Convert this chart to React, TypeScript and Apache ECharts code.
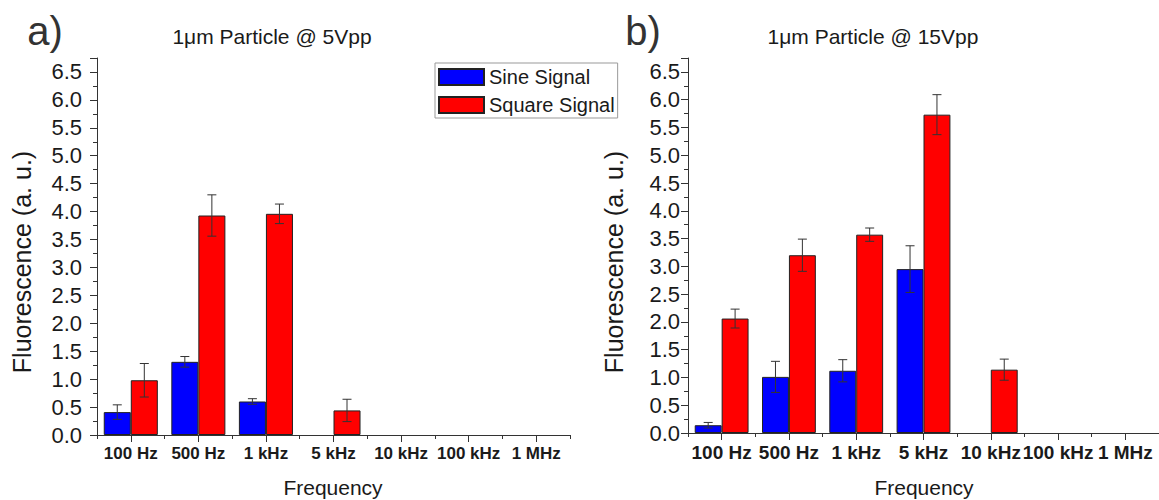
import React, { useEffect, useRef } from "react";
import * as echarts from "echarts";

const categories = ["100 Hz", "500 Hz", "1 kHz", "5 kHz", "10 kHz", "100 kHz", "1 MHz"];

// Panel a) 1um particle @ 5Vpp
const sine5 = [0.41, 1.31, 0.6, 0, 0, 0, 0];
const sine5Err = [0.13, 0.095, 0.05, 0, 0, 0, 0];
const square5 = [0.98, 3.93, 3.96, 0.44, 0, 0, 0];
const square5Err = [0.3, 0.37, 0.175, 0.2, 0, 0, 0];

// Panel b) 1um particle @ 15Vpp
const sine15 = [0.14, 1.01, 1.12, 2.95, 0, 0, 0];
const sine15Err = [0.05, 0.28, 0.2, 0.42, 0, 0, 0];
const square15 = [2.06, 3.2, 3.57, 5.73, 1.14, 0, 0];
const square15Err = [0.17, 0.29, 0.12, 0.36, 0.19, 0, 0];

const yMin = 0;
const yMax = 6.75;
const yInterval = 0.5;

const FONT = "'Liberation Sans', Arial, sans-serif";
const AXIS = "#333";
const TXT = "#1a1a1a";

function errData(vals: number[], errs: number[]) {
  return vals.map((v, i) => [i, v, errs[i]]);
}

function barData(vals: number[]) {
  return vals.map((v) => (v === 0 ? { value: 0, itemStyle: { borderWidth: 0 } } : v));
}

function makeErrSeries(name: string, vals: number[], errs: number[], xIdx: number, yIdx: number, side: number) {
  return {
    type: "custom",
    name,
    xAxisIndex: xIdx,
    yAxisIndex: yIdx,
    z: 5,
    encode: { x: 0, y: 1 },
    data: errData(vals, errs),
    renderItem: (params: any, api: any) => {
      const ci = api.value(0);
      const v = api.value(1);
      const e = api.value(2);
      if (!e) return null;
      const c = api.coord([ci, v]);
      const cw = api.size([1, 0])[0];
      const x = c[0] + side * 0.2 * cw;
      const yt = api.coord([ci, v + e])[1];
      const yb = api.coord([ci, v - e])[1];
      const hw = 4.5;
      const st = { stroke: "#333", lineWidth: 1 };
      return {
        type: "group",
        children: [
          { type: "line", shape: { x1: x, y1: yt, x2: x, y2: yb }, style: st },
          { type: "line", shape: { x1: x - hw, y1: yt, x2: x + hw, y2: yt }, style: st },
          { type: "line", shape: { x1: x - hw, y1: yb, x2: x + hw, y2: yb }, style: st },
        ],
      };
    },
  };
}

export default function App() {
  const ref = useRef<HTMLDivElement>(null);
  useEffect(() => {
    if (!ref.current) return;
    const chart = echarts.init(ref.current, undefined, { renderer: "svg" });

    const mainX = (g: number, fs: number) => ({
      type: "category",
      gridIndex: g,
      data: categories,
      position: "bottom",
      axisLine: { show: true, lineStyle: { color: AXIS, width: 1 } },
      axisTick: { show: true, alignWithLabel: true, interval: 0, length: 7, lineStyle: { color: AXIS } },
      axisLabel: { interval: 0, margin: 10, fontSize: fs, fontWeight: "bold", color: TXT, fontFamily: FONT },
      splitLine: { show: false },
    });
    const secX = (g: number) => ({
      type: "category",
      gridIndex: g,
      data: categories,
      position: "bottom",
      axisLine: { show: false },
      axisTick: { show: true, interval: 0, length: 4, lineStyle: { color: AXIS } },
      axisLabel: { show: false },
      splitLine: { show: false },
    });
    const yAx = (g: number, margin: number) => ({
      type: "value",
      gridIndex: g,
      min: yMin,
      max: yMax,
      interval: yInterval,
      axisLine: { show: true, lineStyle: { color: AXIS, width: 1 } },
      axisTick: { show: true, length: 7, lineStyle: { color: AXIS } },
      minorTick: { show: true, splitNumber: 2, length: 4, lineStyle: { color: AXIS } },
      splitLine: { show: false },
      minorSplitLine: { show: false },
      axisLabel: {
        showMaxLabel: false,
        formatter: (v: number) => v.toFixed(1),
        fontSize: 22,
        margin,
        color: TXT,
        fontFamily: FONT,
      },
    });

    const barStyle = (color: string) => ({ color, borderColor: "#222", borderWidth: 1 });

    const option: any = {
      animation: false,
      backgroundColor: "#fff",
      textStyle: { fontFamily: FONT },
      grid: [
        { left: 97, top: 58, width: 473, height: 377, containLabel: false },
        { left: 688, top: 58, width: 473, height: 375, containLabel: false },
      ],
      xAxis: [mainX(0, 17), secX(0), mainX(1, 19), secX(1)],
      yAxis: [yAx(0, 15), yAx(1, 8)],
      legend: {
        data: ["Sine Signal", "Square Signal"],
        orient: "vertical",
        left: 435,
        top: 63,
        icon: "rect",
        itemWidth: 45,
        itemHeight: 16,
        itemGap: 8,
        padding: [4, 3, 3, 3],
        borderColor: "#999",
        borderWidth: 1,
        textStyle: { fontSize: 20, color: TXT, fontFamily: FONT },
      },
      graphic: [
        { type: "text", x: 45, y: 31, style: { text: "a)", font: `40px ${FONT}`, fill: "#333", textAlign: "center", textVerticalAlign: "middle" } },
        { type: "text", x: 643, y: 31, style: { text: "b)", font: `40px ${FONT}`, fill: "#333", textAlign: "center", textVerticalAlign: "middle" } },
        { type: "text", x: 272, y: 36, style: { text: "1μm Particle @ 5Vpp", font: `21px ${FONT}`, fill: TXT, textAlign: "center", textVerticalAlign: "middle" } },
        { type: "text", x: 873, y: 36, style: { text: "1μm Particle @ 15Vpp", font: `21px ${FONT}`, fill: TXT, textAlign: "center", textVerticalAlign: "middle" } },
        { type: "text", x: 22, y: 262, rotation: Math.PI / 2, style: { text: "Fluorescence (a. u.)", font: `25px ${FONT}`, fill: TXT, textAlign: "center", textVerticalAlign: "middle" } },
        { type: "text", x: 614, y: 262, rotation: Math.PI / 2, style: { text: "Fluorescence (a. u.)", font: `25px ${FONT}`, fill: TXT, textAlign: "center", textVerticalAlign: "middle" } },
        { type: "text", x: 333, y: 487, style: { text: "Frequency", font: `21px ${FONT}`, fill: TXT, textAlign: "center", textVerticalAlign: "middle" } },
        { type: "text", x: 924, y: 487, style: { text: "Frequency", font: `21px ${FONT}`, fill: TXT, textAlign: "center", textVerticalAlign: "middle" } },
      ],
      series: [
        { type: "bar", name: "Sine Signal", xAxisIndex: 0, yAxisIndex: 0, data: barData(sine5), barGap: "0%", barCategoryGap: "20%", itemStyle: barStyle("#0000ff") },
        { type: "bar", name: "Square Signal", xAxisIndex: 0, yAxisIndex: 0, data: barData(square5), barGap: "0%", barCategoryGap: "20%", itemStyle: barStyle("#ff0000") },
        { type: "bar", name: "Sine Signal", xAxisIndex: 2, yAxisIndex: 1, data: barData(sine15), barGap: "0%", barCategoryGap: "20%", itemStyle: barStyle("#0000ff") },
        { type: "bar", name: "Square Signal", xAxisIndex: 2, yAxisIndex: 1, data: barData(square15), barGap: "0%", barCategoryGap: "20%", itemStyle: barStyle("#ff0000") },
        makeErrSeries("errSine5", sine5, sine5Err, 0, 0, -1),
        makeErrSeries("errSquare5", square5, square5Err, 0, 0, 1),
        makeErrSeries("errSine15", sine15, sine15Err, 2, 1, -1),
        makeErrSeries("errSquare15", square15, square15Err, 2, 1, 1),
      ],
    };
    chart.setOption(option);
    return () => chart.dispose();
  }, []);
  return <div ref={ref} style={{ position: "absolute", left: 0, top: 0, width: 1159, height: 500 }} />;
}
